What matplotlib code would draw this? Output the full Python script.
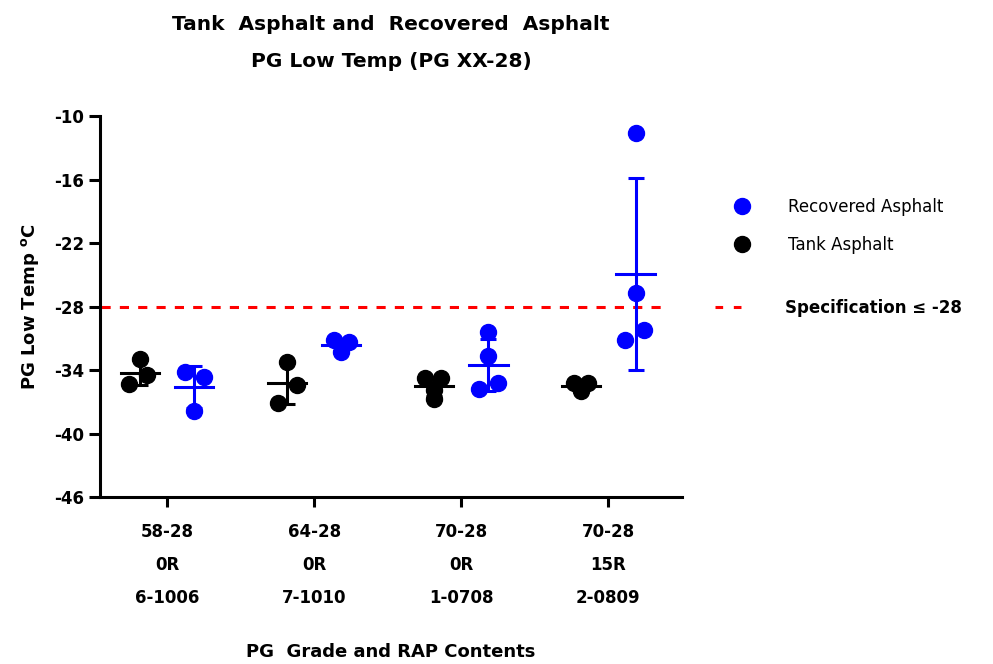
import matplotlib
matplotlib.use('Agg')
import matplotlib.pyplot as plt
from matplotlib.lines import Line2D
import numpy as np

plt.rcParams['font.family'] = ['DejaVu Sans']
plt.rcParams['font.weight'] = 'bold'
plt.rcParams['axes.unicode_minus'] = False

# 类别标签
categories = ['58-28\n0R\n6-1006', '64-28\n0R\n7-1010', '70-28\n0R\n1-0708', '70-28\n15R\n2-0809']

# 各组的 PG 低温数据 (°C)
tank = [[-33.0, -34.5, -35.3],
        [-33.2, -35.4, -37.1],
        [-34.8, -34.8, -36.7, -35.9],
        [-35.2, -35.2, -36.0, -35.6]]
recovered = [[-34.2, -34.7, -37.9],
             [-31.2, -31.4, -32.3],
             [-30.4, -32.7, -35.8, -35.2],
             [-11.6, -26.7, -30.2, -31.2]]

spec = -28

# 散点的水平抖动
tank_jit = [[0.0, 0.05, -0.07], [0.0, 0.07, -0.06], [-0.06, 0.05, 0.0, 0.0], [-0.05, 0.05, 0.0, 0.0]]
rec_jit = [[-0.06, 0.07, 0.0], [-0.05, 0.05, 0.0], [0.0, 0.0, -0.065, 0.065], [0.0, 0.0, 0.06, -0.07]]

fig = plt.figure(figsize=(9.93, 6.64), dpi=100)
ax = fig.add_axes([0.1007, 0.2515, 0.586, 0.5738])

offset = 0.185
groups = [(tank, tank_jit, 'black', -offset), (recovered, rec_jit, 'blue', offset)]
for data, jit, color, off in groups:
    for i, vals in enumerate(data):
        vals = np.array(vals)
        xc = i + off
        ax.plot(xc + np.array(jit[i]), vals, 'o', color=color, markersize=11.5, zorder=3)
        m = vals.mean()
        sd = vals.std(ddof=1)
        ax.errorbar(xc, m, yerr=sd, color=color, lw=2.2, capsize=6, capthick=2.2, zorder=4)
        ax.plot([xc - 0.13, xc + 0.13], [m, m], color=color, lw=2.2, zorder=4)

ax.hlines(spec, -0.45, 3.37, colors='red', linestyles=(0, (3, 3)), lw=2.2, zorder=2)

ax.set_xlim(-0.455, 3.5)
ax.set_ylim(-46, -10)
ax.set_yticks(np.arange(-46, -9, 6))
ax.set_xticks(range(len(categories)))
ax.set_xticklabels(categories, linespacing=2.05, fontsize=12)
ax.tick_params(axis='y', labelsize=12, length=8, width=2.2)
ax.tick_params(axis='x', length=7, width=2.2, pad=12)
for lab in ax.get_yticklabels() + ax.get_xticklabels():
    lab.set_fontweight('bold')

ax.spines['top'].set_visible(False)
ax.spines['right'].set_visible(False)
ax.spines['left'].set_linewidth(2.2)
ax.spines['bottom'].set_linewidth(2.2)

ax.set_ylabel('PG Low Temp $^{\\mathregular{o}}$C', fontsize=13, fontweight='bold', labelpad=9)
ax.set_xlabel('PG  Grade and RAP Contents', fontsize=13, fontweight='bold', labelpad=26)
ax.set_title('Tank  Asphalt and  Recovered  Asphalt\nPG Low Temp (PG XX-28)', fontsize=14.5,
             fontweight='bold', linespacing=2.2, pad=35)

# 图例
h1 = [Line2D([], [], marker='o', ls='none', color='blue', markersize=11.5),
      Line2D([], [], marker='o', ls='none', color='black', markersize=11.5)]
leg1 = ax.legend(h1, ['Recovered Asphalt', 'Tank Asphalt'], loc='upper left',
                 bbox_to_anchor=(0.715, 0.725), bbox_transform=fig.transFigure, frameon=False,
                 prop={'size': 12}, labelspacing=1.2, handletextpad=1.8)
for t in leg1.get_texts():
    t.set_fontweight('normal')
ax.add_artist(leg1)
h2 = [Line2D([], [], color='red', ls=(0, (2.5, 3.5)), lw=2.2)]
ax.legend(h2, ['Specification ≤ -28'], loc='upper left',
          bbox_to_anchor=(0.705, 0.573), bbox_transform=fig.transFigure, frameon=False,
          prop={'size': 12, 'weight': 'bold'}, handlelength=1.8, handletextpad=2.4)

fig.savefig('out.png', dpi=100)
